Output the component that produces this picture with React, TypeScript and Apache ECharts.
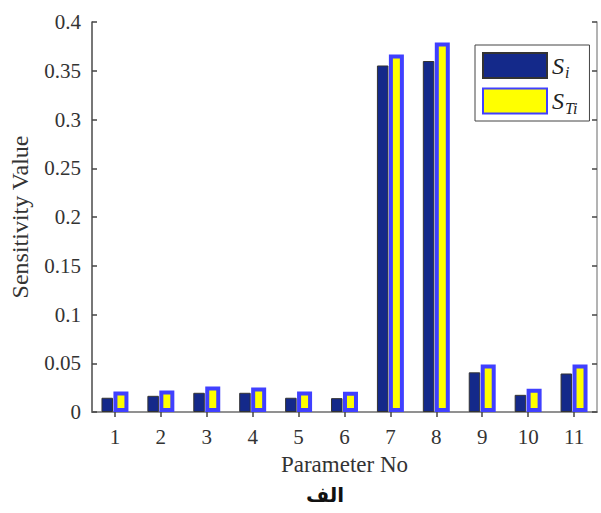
import React, { useEffect, useRef } from "react";
import * as echarts from "echarts";

const categories = ["1", "2", "3", "4", "5", "6", "7", "8", "9", "10", "11"];
const siValues = [0.0146, 0.0166, 0.0197, 0.0197, 0.0146, 0.0142, 0.3554, 0.3600, 0.0407, 0.0176, 0.0395];
const stiValues = [0.0210, 0.0221, 0.0262, 0.0251, 0.0210, 0.0207, 0.3667, 0.3790, 0.0487, 0.0238, 0.0487];
const yTicks = { min: 0, max: 0.4, interval: 0.05 };
const seriesNames = ["Si", "STi"];
const caption = "الف";
const xTitle = "Parameter No";
const yTitle = "Sensitivity Value";

const SERIF = "Liberation Serif";

export default function App() {
  const ref = useRef<HTMLDivElement>(null);
  useEffect(() => {
    if (!ref.current) return;
    const chart = echarts.init(ref.current, null, { renderer: "svg" });
    const axisLine = { show: true, lineStyle: { color: "#4a4a4a", width: 1.5 } };
    const boxLine = { show: true, lineStyle: { color: "#9a9a9a", width: 1.5 } };
    const tick = { show: true, inside: true, length: 5, lineStyle: { color: "#444", width: 1.5 } };
    chart.setOption({
      animation: false,
      backgroundColor: "#fff",
      grid: { left: 85, right: 4, top: 22, bottom: 101, containLabel: false },
      legend: {
        orient: "vertical",
        left: 475,
        top: 45,
        padding: [7, 12, 5, 7],
        itemWidth: 64,
        itemHeight: 25,
        itemGap: 7,
        icon: "rect",
        borderColor: "#444",
        borderWidth: 1,
        borderRadius: 0,
        backgroundColor: "#fff",
        data: seriesNames,
        formatter: (name: string) =>
          name === "Si" ? "{s|S}{sub|i}" : "{s|S}{sub|Ti}",
        textStyle: {
          color: "#222",
          rich: {
            s: { fontFamily: SERIF, fontStyle: "italic", fontSize: 24, color: "#222" },
            sub: {
              fontFamily: SERIF,
              fontStyle: "italic",
              fontSize: 16,
              color: "#222",
              verticalAlign: "bottom",
              padding: [14, 0, 0, 1],
            },
          },
        },
      },
      xAxis: [
        {
          type: "category",
          data: categories,
          position: "bottom",
          axisLine,
          axisTick: { ...tick, alignWithLabel: true },
          axisLabel: { fontFamily: SERIF, fontSize: 21, color: "#333", margin: 14 },
          name: xTitle,
          nameLocation: "middle",
          nameGap: 41,
          nameTextStyle: { fontFamily: SERIF, fontSize: 23, color: "#333" },
        },
        {
          type: "category",
          data: categories,
          position: "top",
          axisLine: boxLine,
          axisTick: { ...tick, alignWithLabel: true },
          axisLabel: { show: false },
        },
      ],
      yAxis: [
        {
          type: "value",
          min: yTicks.min,
          max: yTicks.max,
          interval: yTicks.interval,
          position: "left",
          axisLine,
          axisTick: tick,
          splitLine: { show: false },
          axisLabel: { fontFamily: SERIF, fontSize: 21, color: "#333", margin: 11 },
          name: yTitle,
          nameLocation: "middle",
          nameGap: 60,
          nameTextStyle: { fontFamily: SERIF, fontSize: 24, color: "#333" },
        },
        {
          type: "value",
          min: yTicks.min,
          max: yTicks.max,
          interval: yTicks.interval,
          position: "right",
          axisLine: boxLine,
          axisTick: tick,
          splitLine: { show: false },
          axisLabel: { show: false },
        },
      ],
      series: [
        {
          name: seriesNames[0],
          type: "bar",
          data: siValues,
          barWidth: 11.5,
          barGap: "4%",
          itemStyle: { color: "#14298a", borderColor: "#333", borderWidth: 1 },
        },
        {
          name: seriesNames[1],
          type: "bar",
          data: stiValues,
          barWidth: 15,
          itemStyle: { color: "#ffff00", borderColor: "#4040ff", borderWidth: 4 },
        },
      ],
      graphic: [
        {
          type: "text",
          x: 325,
          y: 495,
          style: {
            text: caption,
            fontFamily: "DejaVu Sans",
            fontWeight: "bold",
            fontSize: 20,
            fill: "#111",
            align: "center",
            verticalAlign: "middle",
          },
        },
      ],
    });
    return () => chart.dispose();
  }, []);
  return <div ref={ref} style={{ width: 601, height: 513, position: "absolute", left: 0, top: 0 }} />;
}
